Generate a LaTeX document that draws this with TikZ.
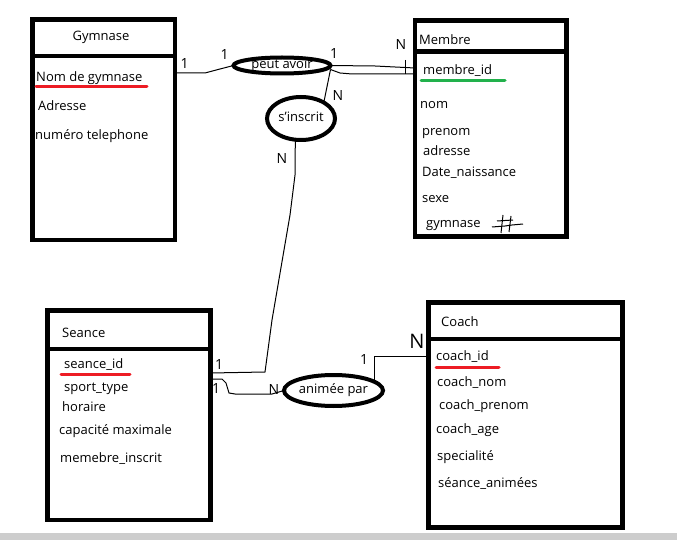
\documentclass[tikz,border=0pt]{standalone}
\usepackage{fontspec}
\setmainfont{Open Sans}
\usepackage{xcolor}
\usetikzlibrary{shapes.geometric}

\definecolor{paintred}{RGB}{237,28,36}
\definecolor{paintgreen}{RGB}{34,177,76}
\definecolor{bandgray}{RGB}{205,205,205}

\begin{document}
\begin{tikzpicture}[x=1pt, y=-1pt, font=\fontsize{13}{15}\selectfont,
    entity/.style={draw, rectangle, line width=4.5pt, anchor=north west, inner sep=0pt, outer sep=0pt},
    rel/.style={draw, ellipse, line width=4pt, inner sep=0pt, outer sep=0pt, text height=7.5pt, text depth=1pt},
    attr/.style={anchor=base west, inner sep=0pt},
    card/.style={inner sep=0pt, font=\fontsize{14}{14}\selectfont},
    link/.style={line width=1pt},
    keyline/.style={line width=3pt, line cap=round}]
    \useasboundingbox (0,0) rectangle (677,540);
    \fill[bandgray] (0,533) rectangle (677,540);

    \node[entity, minimum width=142.5pt, minimum height=220.5pt] (gym) at (32.5,19.5) {};
    \node[entity, minimum width=151.5pt, minimum height=216pt] (mem) at (415,20.5) {};
    \node[entity, minimum width=163pt, minimum height=209.5pt] (sea) at (47.5,310.5) {};
    \node[entity, minimum width=194pt, minimum height=225pt] (coa) at (428.5,302.5) {};

    \draw[line width=4.5pt] ([yshift=-36.5pt]gym.north west) -- ([yshift=-36.5pt]gym.north east);
    \draw[line width=4.5pt] ([yshift=-31pt]mem.north west) -- ([yshift=-31pt]mem.north east);
    \draw[line width=4.5pt] ([yshift=-38.5pt]sea.north west) -- ([yshift=-38.5pt]sea.north east);
    \draw[line width=4.5pt] ([yshift=-36.5pt]coa.north west) -- ([yshift=-36.5pt]coa.north east);

    \node[anchor=base, inner sep=0pt] (gymtitle) at (101,41) {Gymnase};
    \node[attr] (gymnom) at (36,82) {Nom de gymnase};
    \node[attr] (gymadr) at (38,111) {Adresse};
    \node[attr] (gymtel) at (35,140) {numéro telephone};

    \node[attr] (memtitle) at (419,45) {Membre};
    \node[attr] (memid) at (423,75) {membre\_id};
    \node[attr] (memnom) at (420,109) {nom};
    \node[attr] (memprenom) at (422,136) {prenom};
    \node[attr] (memadr) at (423,156) {adresse};
    \node[attr] (memdate) at (422,177) {Date\_naissance};
    \node[attr] (memsexe) at (422,203) {sexe};
    \node[attr] (memgym) at (426,227) {gymnase};

    \node[attr] (seatitle) at (62,337) {Seance};
    \node[attr] (seaid) at (64,368) {seance\_id};
    \node[attr] (seasport) at (64,391) {sport\_type};
    \node[attr] (seahor) at (62,411) {horaire};
    \node[attr] (seacap) at (59,434) {capacité maximale};
    \node[attr] (seainscr) at (60,462) {memebre\_inscrit};

    \node[attr] (coatitle) at (441,326) {Coach};
    \node[attr] (coaid) at (436,360) {coach\_id};
    \node[attr] (coanom) at (437,386) {coach\_nom};
    \node[attr] (coaprenom) at (439,409) {coach\_prenom};
    \node[attr] (coaage) at (436,433) {coach\_age};
    \node[attr] (coaspec) at (437,460) {specialité};
    \node[attr] (coaseances) at (438,487) {séance\_animées};

    \draw[keyline, paintred] (36,87) -- (147,87);
    \draw[keyline, paintgreen] (421,80.5) -- (505,80.5);
    \draw[keyline, paintred] (61,374) -- (130,374);
    \draw[keyline, paintred] (436,367) -- (499,367);

    \draw[link] (497,221) -- (513,220);
    \draw[link] (492,227) -- (505,226) -- (512,225) -- (523,224);
    \draw[link] (503,215) -- (501,233);
    \draw[link] (511,216) -- (509,232);

    \node[rel, minimum width=97pt, minimum height=16pt] (peut) at (282,65.5) {peut avoir};
    \node[rel, minimum width=68pt, minimum height=43pt] (ins) at (301,118.5) {s'inscrit};
    \node[rel, minimum width=99pt, minimum height=31pt] (anim) at (333.5,390.5) {animée par};

    \coordinate (gym1) at (175,73);
    \coordinate (mem1) at (415,68);
    \coordinate (mem2) at (415,74);
    \coordinate (sea1) at (210.5,373);
    \coordinate (sea2) at (210.5,379);
    \coordinate (coa1) at (428.5,356);

    \draw[link] (gym1) -- (205,73) -- (220,69) -- (peut.west);
    \draw[link] (peut.east) -- (375,66) -- (mem1);
    \draw[link] ([yshift=-4pt]peut.east) -- (340,73) -- (352,74) -- (mem2);
    \draw[link] (405,60) -- (405,74);
    \draw[link] (ins.35) -- ([yshift=-4pt]peut.east);
    \draw[link] (ins.255) -- (295,175) -- (290,215) -- (272,320) -- (265,372) -- (sea1);
    \draw[link] (sea2) -- (222,379) -- (226,383) -- (229,393) -- (235,394) -- (272,394) -- (anim.west);
    \draw[link] (anim.12) |- (coa1);

    \node[card] (c1) at (184.5,64) {1};
    \node[card] (c2) at (224.5,55) {1};
    \node[card] (c3) at (334,54) {1};
    \node[card] (c4) at (401,44.5) {N};
    \node[card] (c5) at (338,96) {N};
    \node[card] (c6) at (282,159) {N};
    \node[card] (c7) at (219,365) {1};
    \node[card] (c8) at (216,389) {1};
    \node[card] (c9) at (274,390) {N};
    \node[card] (c10) at (364,360) {1};
    \node[card, font=\fontsize{20}{20}\selectfont] (c11) at (417,341) {N};
\end{tikzpicture}
\end{document}
